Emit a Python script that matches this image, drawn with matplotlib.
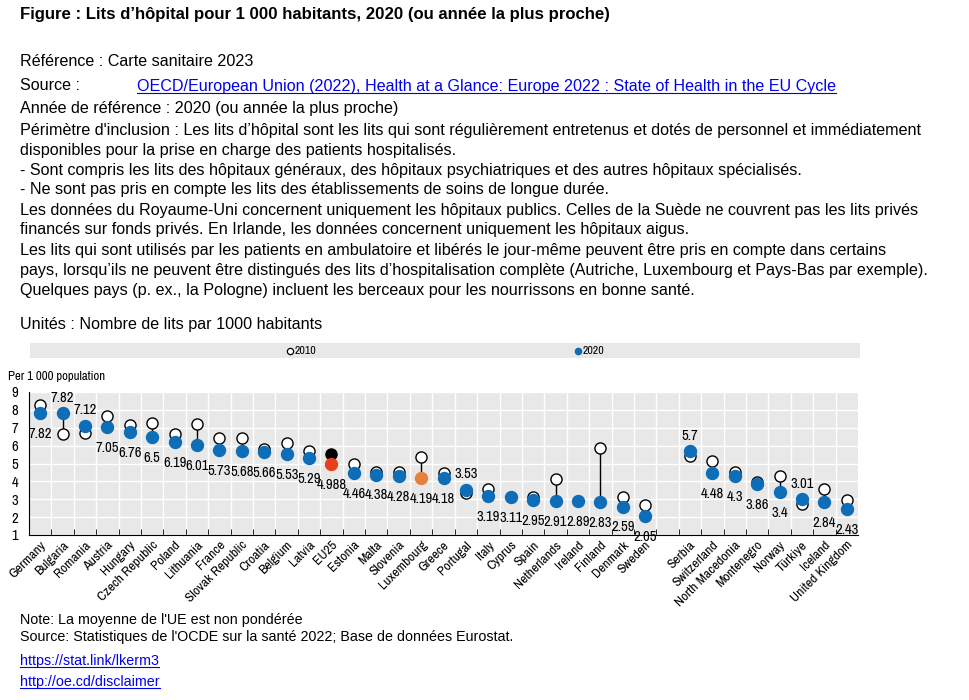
import matplotlib
matplotlib.use('Agg')
import matplotlib.pyplot as plt
import numpy as np
from matplotlib.lines import Line2D

plt.rcParams['font.family'] = ['Liberation Sans', 'DejaVu Sans']
NARROW = ['Liberation Sans Narrow', 'Archivo Narrow', 'Liberation Sans']

# Data
countries = ['Germany', 'Bulgaria', 'Romania', 'Austria', 'Hungary', 'Czech Republic',
             'Poland', 'Lithuania', 'France', 'Slovak Republic', 'Croatia', 'Belgium',
             'Latvia', 'EU25', 'Estonia', 'Malta', 'Slovenia', 'Luxembourg', 'Greece',
             'Portugal', 'Italy', 'Cyprus', 'Spain', 'Netherlands', 'Ireland', 'Finland',
             'Denmark', 'Sweden', '',
             'Serbia', 'Switzerland', 'North Macedonia', 'Montenegro', 'Norway',
             'Türkiye', 'Iceland', 'United Kingdom']
beds_2020 = [7.82, 7.82, 7.12, 7.05, 6.76, 6.5, 6.19, 6.01, 5.73, 5.68, 5.66, 5.53,
             5.29, 4.988, 4.46, 4.38, 4.28, 4.19, 4.18, 3.53, 3.19, 3.11, 2.95, 2.91,
             2.89, 2.83, 2.59, 2.05, np.nan,
             5.7, 4.48, 4.3, 3.86, 3.4, 3.01, 2.84, 2.43]
beds_2010 = [8.25, 6.65, 6.7, 7.65, 7.18, 7.27, 6.65, 7.2, 6.42, 6.45, 5.8, 6.13,
             5.7, 5.55, 4.95, 4.5, 4.55, 5.35, 4.45, 3.37, 3.6, np.nan, 3.1, 4.15,
             np.nan, 5.85, 3.15, 2.7, np.nan,
             5.4, 5.15, 4.5, 3.95, 4.3, 2.75, 3.6, 2.95]

blue = '#0d6db6'
red = '#e8401c'
orange = '#e3823f'
panel = '#e8e8e8'
link_blue = '#0000ee'

W, H = 970, 700
fig = plt.figure(figsize=(W / 100, H / 100), dpi=100)


def fy(py):
    return 1 - py / H


def fx(px):
    return px / W


links = []

# header text
fig.text(fx(20), fy(14), 'Figure : Lits d’hôpital pour 1 000 habitants, 2020 (ou année la plus proche)',
         fontsize=12.1, fontweight='bold', va='center')
fig.text(fx(20), fy(62), 'Référence : Carte sanitaire 2023', fontsize=11.6, va='center')
fig.text(fx(20), fy(86), 'Source :', fontsize=11.6, va='center')
links.append(fig.text(fx(137), fy(86),
                      'OECD/European Union (2022), Health at a Glance: Europe 2022 : State of Health in the EU Cycle',
                      fontsize=11.6, va='center', color=link_blue))
body = [
    (108, 'Année de référence : 2020 (ou année la plus proche)'),
    (130, "Périmètre d'inclusion : Les lits d’hôpital sont les lits qui sont régulièrement entretenus et dotés de personnel et immédiatement"),
    (150, 'disponibles pour la prise en charge des patients hospitalisés.'),
    (170, '- Sont compris les lits des hôpitaux généraux, des hôpitaux psychiatriques et des autres hôpitaux spécialisés.'),
    (190, '- Ne sont pas pris en compte les lits des établissements de soins de longue durée.'),
    (210, 'Les données du Royaume-Uni concernent uniquement les hôpitaux publics. Celles de la Suède ne couvrent pas les lits privés'),
    (230, 'financés sur fonds privés. En Irlande, les données concernent uniquement les hôpitaux aigus.'),
    (250, 'Les lits qui sont utilisés par les patients en ambulatoire et libérés le jour-même peuvent être pris en compte dans certains'),
    (270, 'pays, lorsqu’ils ne peuvent être distingués des lits d’hospitalisation complète (Autriche, Luxembourg et Pays-Bas par exemple).'),
    (290, 'Quelques pays (p. ex., la Pologne) incluent les berceaux pour les nourrissons en bonne santé.'),
    (325, 'Unités : Nombre de lits par 1000 habitants'),
]
for py, s in body:
    fig.text(fx(20), fy(py), s, fontsize=11.6, va='center')

# legend bar
lax = fig.add_axes([fx(30), fy(358), fx(830), 15 / H])
lax.set_facecolor(panel)
for sp in lax.spines.values():
    sp.set_visible(False)
lax.set_xticks([])
lax.set_yticks([])
lax.set_xlim(0, 830)
lax.set_ylim(0, 1)
lax.plot([260], [0.5], 'o', ms=4.5, mfc='white', mec='black', mew=0.9)
lax.text(265, 0.5, '2010', fontsize=8.5, va='center', family=NARROW)
lax.plot([548], [0.5], 'o', ms=4.5, mfc=blue, mec=blue)
lax.text(553, 0.5, '2020', fontsize=8.5, va='center', family=NARROW)

# main chart
ax = fig.add_axes([fx(29), fy(535), fx(829), (535 - 392) / H])
ax.set_facecolor(panel)
x = np.arange(len(countries))
v10 = np.array(beds_2010, dtype=float)
v20 = np.array(beds_2020, dtype=float)

for i in range(len(countries)):
    if np.isnan(v20[i]):
        continue
    if not np.isnan(v10[i]):
        ax.plot([x[i], x[i]], [v10[i], v20[i]], color='black', lw=1, zorder=2)
    c10 = 'black' if countries[i] == 'EU25' else 'white'
    if countries[i] == 'EU25':
        c20 = red
    elif countries[i] == 'Luxembourg':
        c20 = orange
    else:
        c20 = blue
    if not np.isnan(v10[i]):
        ax.plot(x[i], v10[i], 'o', ms=8, mfc=c10, mec='black', mew=1, zorder=3)
    ax.plot(x[i], v20[i], 'o', ms=8.6, mfc=c20, mec=c20, zorder=4)
    above = (not np.isnan(v10[i])) and v10[i] < v20[i]
    ax.annotate(f'{v20[i]:g}', (x[i], v20[i]), xytext=(0, 11 if above else -15),
                textcoords='offset points', ha='center', va='center', fontsize=10.5,
                family=NARROW)

ax.set_xlim(-0.5, len(countries) - 0.5)
ax.set_ylim(1, 9)
ax.set_yticks(range(1, 10))
ax.set_xticks(x)
ax.set_xticklabels(countries, rotation=45, ha='right', rotation_mode='anchor',
                   fontsize=9.8, family=NARROW)
ax.set_xticks(np.arange(0.5, len(countries) - 1), minor=True)
ax.tick_params(axis='x', which='major', length=0, pad=3)
ax.tick_params(axis='x', which='minor', direction='in', length=4, color='black')
ax.tick_params(axis='y', length=0, labelsize=10.5, pad=8)
for lab in ax.get_yticklabels():
    lab.set_family(NARROW)
ax.grid(True, which='minor', axis='x', color='white', lw=1)
ax.grid(True, which='major', axis='y', color='white', lw=1)
ax.set_axisbelow(True)
for s in ['top', 'right']:
    ax.spines[s].set_visible(False)
ax.spines['left'].set_color('black')
ax.spines['bottom'].set_color('black')

fig.text(fx(8), fy(376), 'Per 1 000 population', fontsize=9.2, va='center', family=NARROW)

# footer
fig.text(fx(20), fy(620), "Note: La moyenne de l'UE est non pondérée", fontsize=10.25, va='center')
fig.text(fx(20), fy(637), "Source: Statistiques de l'OCDE sur la santé 2022; Base de données Eurostat.",
         fontsize=10.25, va='center')
links.append(fig.text(fx(20), fy(661), 'https://stat.link/lkerm3', fontsize=10.25, va='center', color=link_blue))
links.append(fig.text(fx(20), fy(682), 'http://oe.cd/disclaimer', fontsize=10.25, va='center', color=link_blue))

# underline links
fig.canvas.draw()
r = fig.canvas.get_renderer()
for t in links:
    bb = t.get_window_extent(r)
    yy = (bb.y0 + 1) / H
    fig.add_artist(Line2D([bb.x0 / W, bb.x1 / W], [yy, yy], color=link_blue, lw=0.8))

fig.savefig('out.png', dpi=100)
